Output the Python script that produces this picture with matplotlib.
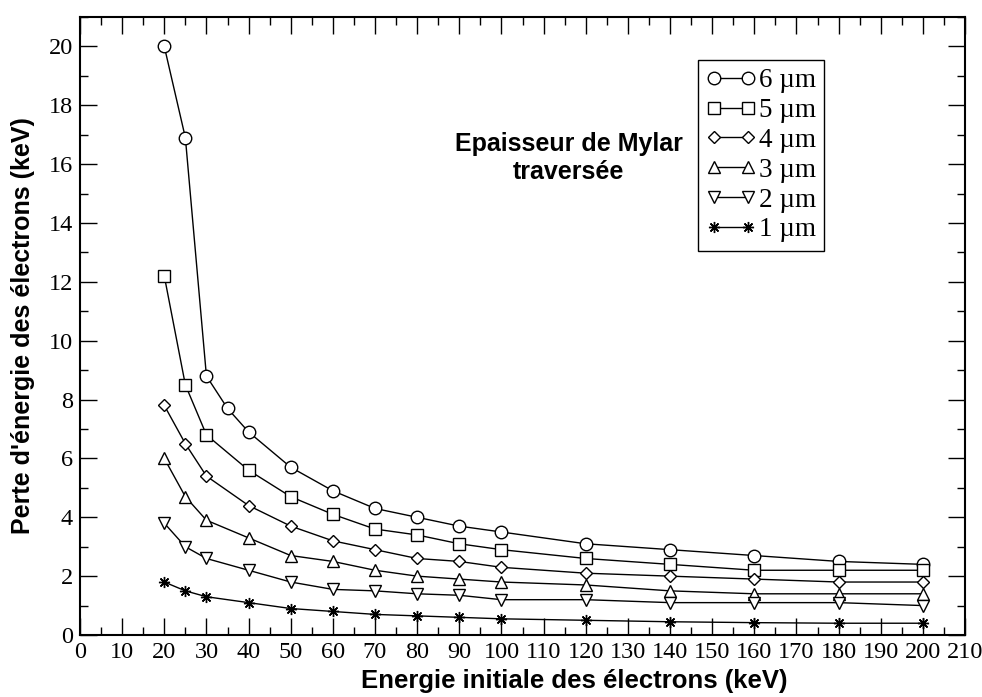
import matplotlib
matplotlib.use("Agg")
import matplotlib.pyplot as plt
from matplotlib.ticker import MultipleLocator

# Energie initiale (keV)
energie = [20, 25, 30, 35, 40, 50, 60, 70, 80, 90, 100, 120, 140, 160, 180, 200]
energie_b = [20, 25, 30, 40, 50, 60, 70, 80, 90, 100, 120, 140, 160, 180, 200]

# Perte d'énergie (keV) pour chaque épaisseur de Mylar
perte_6um = [20.0, 16.9, 8.8, 7.7, 6.9, 5.7, 4.9, 4.3, 4.0, 3.7, 3.5, 3.1, 2.9, 2.7, 2.5, 2.4]
perte_5um = [12.2, 8.5, 6.8, 5.6, 4.7, 4.1, 3.6, 3.4, 3.1, 2.9, 2.6, 2.4, 2.2, 2.2, 2.2]
perte_4um = [7.8, 6.5, 5.4, 4.4, 3.7, 3.2, 2.9, 2.6, 2.5, 2.3, 2.1, 2.0, 1.9, 1.8, 1.8]
perte_3um = [6.0, 4.7, 3.9, 3.3, 2.7, 2.5, 2.2, 2.0, 1.9, 1.8, 1.7, 1.5, 1.4, 1.4, 1.4]
perte_2um = [3.8, 3.0, 2.6, 2.2, 1.8, 1.55, 1.5, 1.4, 1.35, 1.2, 1.2, 1.1, 1.1, 1.1, 1.0]
perte_1um = [1.8, 1.5, 1.3, 1.1, 0.9, 0.8, 0.7, 0.65, 0.6, 0.55, 0.5, 0.45, 0.42, 0.4, 0.4]

fig = plt.figure(figsize=(9.82, 6.97), dpi=100)
ax = fig.add_axes([80 / 982, 62 / 697, 885 / 982, 618 / 697])

style = dict(color="black", lw=1, mfc="white", mec="black", mew=1)
ax.plot(energie, perte_6um, marker="o", ms=9, label="6 µm", **style)
ax.plot(energie_b, perte_5um, marker="s", ms=8, label="5 µm", **style)
ax.plot(energie_b, perte_4um, marker="D", ms=6.5, label="4 µm", **style)
ax.plot(energie_b, perte_3um, marker="^", ms=9, label="3 µm", **style)
ax.plot(energie_b, perte_2um, marker="v", ms=9, label="2 µm", **style)
ax.plot(energie_b, perte_1um, marker=(8, 2, 0), ms=8, label="1 µm", **style)

ax.set_xlim(0, 210)
ax.set_ylim(0, 21)
ax.xaxis.set_major_locator(MultipleLocator(10))
ax.xaxis.set_minor_locator(MultipleLocator(5))
ax.yaxis.set_major_locator(MultipleLocator(2))
ax.yaxis.set_minor_locator(MultipleLocator(1))
ax.tick_params(which="both", direction="in", top=True, right=True, width=1)
ax.tick_params(which="major", length=12.5, labelsize=17.5, pad=5)
ax.tick_params(which="minor", length=6)
for lab in ax.get_xticklabels() + ax.get_yticklabels():
    lab.set_family("Liberation Serif")
for sp in ax.spines.values():
    sp.set_linewidth(1.5)

ax.set_xlabel("Energie initiale des électrons (keV)", family="Liberation Sans",
              fontweight="bold", fontsize=18.5)
ax.xaxis.set_label_coords(0.558, -0.055)
ax.set_ylabel("Perte d'énergie des électrons (keV)", family="Liberation Sans",
              fontweight="bold", fontsize=18, labelpad=10)

ax.text(116, 16.2, "Epaisseur de Mylar\ntraversée", ha="center", va="center",
        family="Liberation Sans", fontweight="bold", fontsize=18, linespacing=1.2)

leg = ax.legend(loc="upper left", bbox_to_anchor=(698 / 982, 1 - 60 / 697),
                bbox_transform=fig.transFigure, borderaxespad=0,
                numpoints=2, handlelength=1.85, fancybox=False, edgecolor="black",
                framealpha=1, prop={"family": "Liberation Serif", "size": 19.5},
                labelspacing=0.18, handletextpad=0.1, borderpad=0.3)
leg.get_frame().set_linewidth(1)

fig.savefig("out.png", dpi=100)
